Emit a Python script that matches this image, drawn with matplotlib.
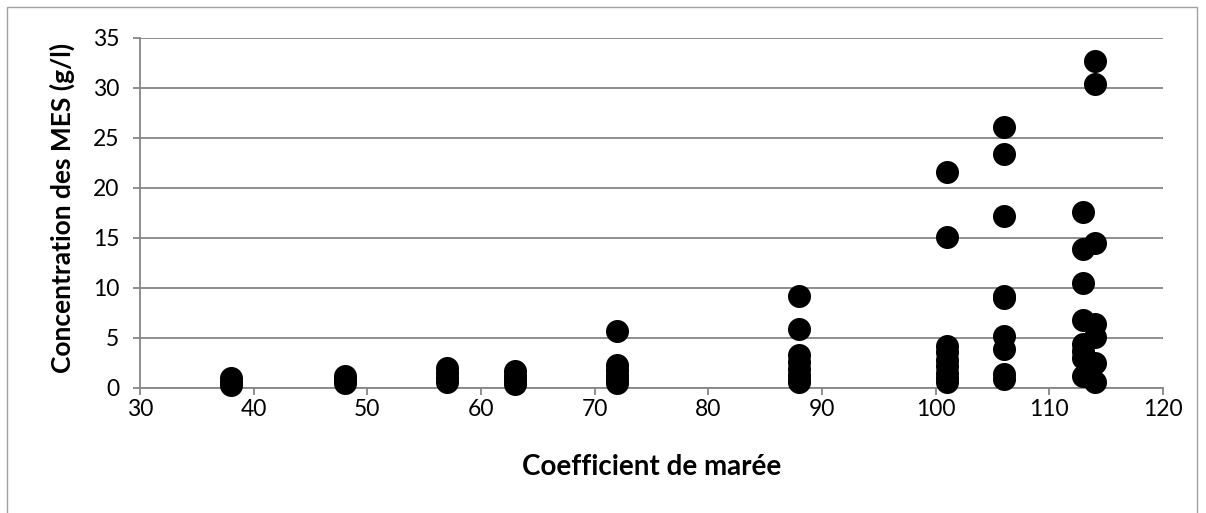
import matplotlib
matplotlib.use("Agg")
import matplotlib.pyplot as plt
from matplotlib.patches import Rectangle

# Data: tidal coefficient -> MES concentrations (g/l)
coef_38 = [1.0, 0.6, 0.3]
coef_48 = [1.2, 0.8, 0.5]
coef_57 = [2.0, 1.5, 1.0, 0.6]
coef_63 = [1.7, 1.2, 0.8, 0.4]
coef_72 = [5.7, 2.3, 1.8, 1.3, 0.9, 0.5]
coef_88 = [9.2, 5.9, 3.3, 2.6, 1.9, 1.3, 0.8, 0.55]
coef_101 = [21.6, 15.1, 4.2, 3.6, 2.8, 2.2, 1.5, 1.0, 0.6]
coef_106 = [26.1, 23.4, 17.2, 9.2, 9.0, 5.2, 3.9, 1.4, 0.9]
coef_113 = [17.6, 13.9, 10.5, 6.8, 4.4, 3.7, 3.0, 1.2]
coef_114 = [32.7, 30.4, 14.5, 6.4, 5.1, 2.5, 0.6]

groups = {38: coef_38, 48: coef_48, 57: coef_57, 63: coef_63, 72: coef_72,
          88: coef_88, 101: coef_101, 106: coef_106, 113: coef_113, 114: coef_114}

x_ticks = [30, 40, 50, 60, 70, 80, 90, 100, 110, 120]
y_ticks = [0, 5, 10, 15, 20, 25, 30, 35]

xs, ys = [], []
for k, vals in groups.items():
    xs.extend([k] * len(vals))
    ys.extend(vals)

W, H = 1206, 513
fig = plt.figure(figsize=(W / 100, H / 100), dpi=100)
fig.patch.set_facecolor("white")

# outer chart border
fig.patches.append(Rectangle((7 / W, -0.05), (1197 - 7) / W, 1.05 - 7 / H,
                             transform=fig.transFigure, fill=False,
                             edgecolor="#a0a0a0", linewidth=1.0))

left, right = 140 / W, 1163 / W
top, bottom = 1 - 37.7 / H, 1 - 387.7 / H
ax = fig.add_axes([left, bottom, right - left, top - bottom])

ax.scatter(xs, ys, s=275, color="black", zorder=3, clip_on=False, linewidths=0)

ax.set_xlim(30, 120)
ax.set_ylim(0, 35)
ax.set_xticks(x_ticks)
ax.set_yticks(y_ticks)

gc = "#868686"
ax.yaxis.grid(True, color=gc, linewidth=1.3)
ax.xaxis.grid(False)
for s in ["top", "right"]:
    ax.spines[s].set_visible(False)
for s in ["left", "bottom"]:
    ax.spines[s].set_color(gc)
    ax.spines[s].set_linewidth(1.3)
ax.set_axisbelow(True)

font = "Lato"
ax.tick_params(axis="y", direction="out", length=5, width=1.3, color=gc,
               pad=10, labelsize=16.5)
ax.tick_params(axis="x", direction="out", length=5, width=1.3, color=gc,
               pad=3, labelsize=16.5)
for lab in ax.get_xticklabels() + ax.get_yticklabels():
    lab.set_fontfamily(font)

fig.text(62 / W, 1 - 208 / H, "Concentration des MES (g/l)", rotation=90,
         ha="center", va="center", fontsize=19, fontweight="bold", family=font)
fig.text(652 / W, 1 - 467 / H, "Coefficient de marée",
         ha="center", va="center", fontsize=20, fontweight="bold", family=font)

fig.savefig("out.png", dpi=100, facecolor="white")
